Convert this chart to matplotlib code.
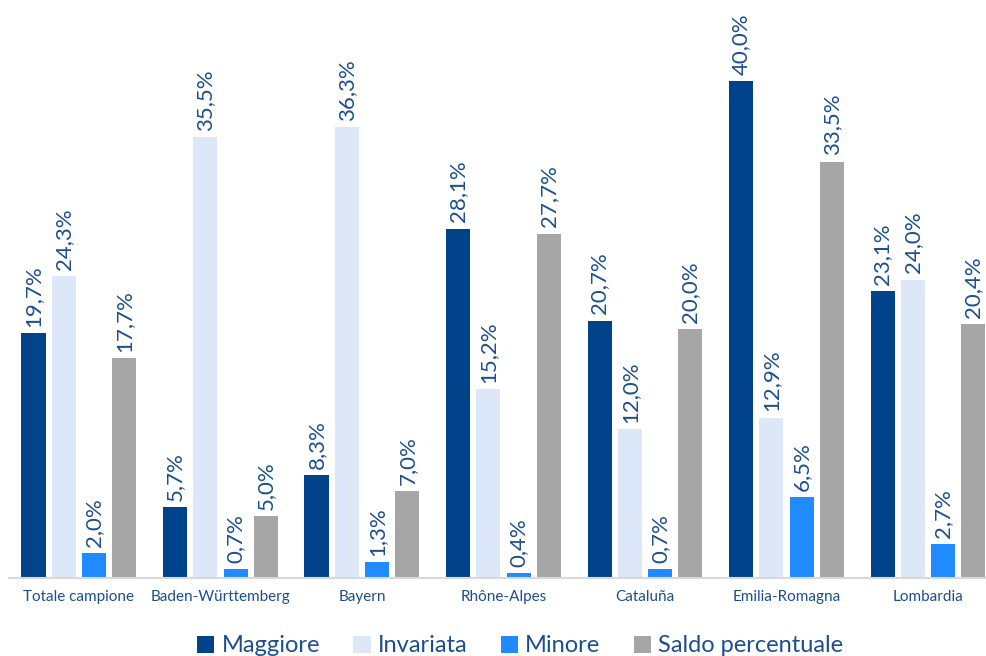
import matplotlib.pyplot as plt
import numpy as np

plt.rcParams['font.family'] = ['Lato', 'DejaVu Sans']

regions = ["Totale campione", "Baden-Württemberg", "Bayern", "Rhône-Alpes",
           "Cataluña", "Emilia-Romagna", "Lombardia"]
maggiore = [19.7, 5.7, 8.3, 28.1, 20.7, 40.0, 23.1]
invariata = [24.3, 35.5, 36.3, 15.2, 12.0, 12.9, 24.0]
minore = [2.0, 0.7, 1.3, 0.4, 0.7, 6.5, 2.7]
saldo = [17.7, 5.0, 7.0, 27.7, 20.0, 33.5, 20.4]

series = [
    ("Maggiore", maggiore, "#00438A"),
    ("Invariata", invariata, "#DCE7F7"),
    ("Minore", minore, "#1F8BFF"),
    ("Saldo percentuale", saldo, "#A6A6A6"),
]
text_col = "#1B4F8F"

fig = plt.figure(figsize=(9.87, 6.56), dpi=100)
ax = fig.add_axes([0.009, 0.119, 0.991, 0.881])

x = np.arange(len(regions))
pitch = 0.214
width = 0.17

for i, (name, vals, col) in enumerate(series):
    pos = x + (i - 1.5) * pitch
    ax.bar(pos, vals, width, color=col, label=name)
    for px, v in zip(pos, vals):
        ax.text(px, v + 0.5, f"{v:.1f}%".replace(".", ","), rotation=90,
                ha="center", va="bottom", fontsize=16, color=text_col)

ax.set_xlim(-0.495, 6.417)
ax.set_ylim(0, 46.5)
ax.set_xticks(x)
ax.set_xticklabels(regions, fontsize=11, color=text_col)
ax.tick_params(axis="x", length=0, pad=9)
ax.set_yticks([])
for s in ["top", "right", "left"]:
    ax.spines[s].set_visible(False)
ax.spines["bottom"].set_color("#D9D9D9")
ax.spines["bottom"].set_linewidth(1.5)

leg = fig.legend(loc="lower center", ncol=4, frameon=False, fontsize=17,
                 bbox_to_anchor=(0.527, -0.033), handlelength=0.75,
                 handleheight=0.75, handletextpad=0.3, columnspacing=1.4)
for t in leg.get_texts():
    t.set_color(text_col)

fig.savefig("out.png", dpi=100)
